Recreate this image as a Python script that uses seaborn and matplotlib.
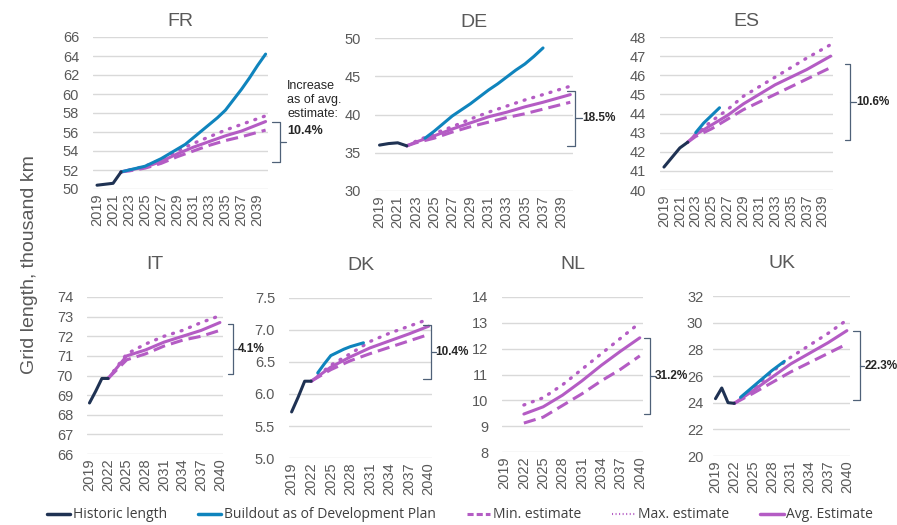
import matplotlib
matplotlib.use("Agg")
import matplotlib.pyplot as plt
import matplotlib.transforms as mtransforms
from matplotlib.lines import Line2D
import seaborn as sns

# ---- data (thousand km) ----
countries = ["FR", "DE", "ES", "IT", "DK", "NL", "UK"]

hist_years = [2019, 2020, 2021, 2022]
hist_fr = [50.4, 50.5, 50.6, 51.8]
hist_de = [36.0, 36.2, 36.3, 35.9]
hist_es = [41.2, 41.7, 42.2, 42.5]
hist_it = [68.6, 69.2, 69.85, 69.85]
hist_dk = [5.72, 5.95, 6.2, 6.2]
hist_uk = [24.3, 25.1, 24.0, 23.95]

build_years_fr = list(range(2022, 2041))
build_fr = [51.8, 52.0, 52.2, 52.4, 52.8, 53.2, 53.7, 54.2, 54.7, 55.4,
            56.1, 56.8, 57.5, 58.3, 59.4, 60.5, 61.7, 63.0, 64.2]
build_years_de = list(range(2024, 2038))
build_de = [36.9, 37.8, 38.8, 39.8, 40.6, 41.4, 42.3, 43.2, 44.0, 44.9,
            45.8, 46.6, 47.6, 48.7]
build_years_es = [2023, 2024, 2025, 2026]
build_es = [43.0, 43.5, 43.9, 44.3]
build_years_dk = list(range(2023, 2031))
build_dk = [6.33, 6.47, 6.6, 6.65, 6.7, 6.74, 6.77, 6.8]
build_years_uk = list(range(2023, 2031))
build_uk = [24.4, 24.8, 25.2, 25.6, 26.0, 26.4, 26.75, 27.1]

est_years_top = [2022, 2023, 2025, 2027, 2029, 2031, 2033, 2035, 2037, 2040]
avg_fr = [51.8, 52.0, 52.3, 52.9, 53.7, 54.4, 55.0, 55.6, 56.1, 57.1]
max_fr = [51.8, 52.0, 52.4, 53.1, 54.0, 54.8, 55.5, 56.2, 56.8, 57.7]
min_fr = [51.8, 51.9, 52.2, 52.7, 53.4, 54.0, 54.6, 55.1, 55.5, 56.2]
avg_de = [35.9, 36.4, 37.2, 38.1, 38.9, 39.7, 40.3, 41.0, 41.6, 42.6]
max_de = [35.9, 36.5, 37.5, 38.4, 39.4, 40.3, 41.1, 41.9, 42.6, 43.7]
min_de = [35.9, 36.3, 36.9, 37.7, 38.4, 39.0, 39.6, 40.1, 40.7, 41.6]
avg_es = [42.5, 42.9, 43.4, 43.9, 44.5, 45.0, 45.5, 45.9, 46.3, 47.0]
max_es = [42.5, 42.9, 43.6, 44.2, 44.9, 45.4, 45.9, 46.4, 46.9, 47.6]
min_es = [42.5, 42.8, 43.2, 43.7, 44.2, 44.6, 45.0, 45.4, 45.8, 46.4]

est_years_bot = [2022, 2025, 2028, 2031, 2034, 2037, 2040]
avg_it = [69.85, 71.0, 71.3, 71.7, 72.0, 72.3, 72.7]
max_it = [69.85, 71.1, 71.6, 72.0, 72.3, 72.7, 73.05]
min_it = [69.85, 70.8, 71.1, 71.5, 71.8, 72.0, 72.3]
avg_dk = [6.2, 6.42, 6.58, 6.72, 6.83, 6.94, 7.06]
max_dk = [6.2, 6.45, 6.63, 6.82, 6.95, 7.06, 7.17]
min_dk = [6.2, 6.38, 6.52, 6.63, 6.73, 6.83, 6.93]
avg_nl = [9.47, 9.75, 10.2, 10.75, 11.35, 11.9, 12.42]
max_nl = [9.82, 10.1, 10.6, 11.2, 11.8, 12.4, 13.0]
min_nl = [9.12, 9.35, 9.8, 10.25, 10.75, 11.2, 11.72]
avg_uk = [23.95, 24.9, 25.9, 26.9, 27.7, 28.5, 29.4]
max_uk = [23.95, 25.0, 26.3, 27.4, 28.3, 29.2, 30.2]
min_uk = [23.95, 24.7, 25.5, 26.3, 27.0, 27.7, 28.4]

pct_labels = ["10.4%", "18.5%", "10.6%", "4.1%", "10.4%", "31.2%", "22.3%"]
bracket_top = [57.1, 43.1, 46.6, 72.6, 7.08, 12.42, 29.35]
bracket_bottom = [52.8, 35.9, 42.6, 70.1, 6.24, 9.46, 24.2]

ylims = [(50, 66), (30, 50), (40, 48), (66, 74), (5, 7.5), (8, 14), (20, 32)]
ysteps = [2, 5, 1, 1, 0.5, 1, 2]

# ---- style ----
C_HIST = "#1f3253"
C_BUILD = "#0f84bd"
C_EST = "#b45cc4"
C_TXT = "#595959"
C_BRK = "#4f6178"

sns.set_style("white")
plt.rcParams["font.family"] = ["Liberation Sans", "DejaVu Sans"]

W, H = 897, 525
fig = plt.figure(figsize=(W / 100, H / 100), dpi=100)


def rect(x0, y0, x1, y1):
    return [x0 / W, 1 - y1 / H, (x1 - x0) / W, (y1 - y0) / H]


# pixel boxes of each plot area
boxes = [(93, 37, 268, 189), (375, 38, 573, 191), (660, 37, 833, 190),
         (87, 297, 223, 454), (289, 298, 432, 458), (502, 297, 643, 452),
         (713, 296, 850, 456)]
# bracket x (axes fraction): left, right
bracket_x = [(1.023, 1.069), (0.97, 1.01), (1.069, 1.098), (1.037, 1.07),
             (0.94, 0.99), (1.007, 1.05), (1.02, 1.07)]

series = {
    "FR": dict(hist=hist_fr, build=(build_years_fr, build_fr), est=(est_years_top, avg_fr, min_fr, max_fr)),
    "DE": dict(hist=hist_de, build=(build_years_de, build_de), est=(est_years_top, avg_de, min_de, max_de)),
    "ES": dict(hist=hist_es, build=(build_years_es, build_es), est=(est_years_top, avg_es, min_es, max_es)),
    "IT": dict(hist=hist_it, build=None, est=(est_years_bot, avg_it, min_it, max_it)),
    "DK": dict(hist=hist_dk, build=(build_years_dk, build_dk), est=(est_years_bot, avg_dk, min_dk, max_dk)),
    "NL": dict(hist=None, build=None, est=(est_years_bot, avg_nl, min_nl, max_nl)),
    "UK": dict(hist=hist_uk, build=(build_years_uk, build_uk), est=(est_years_bot, avg_uk, min_uk, max_uk)),
}

for i, c in enumerate(countries):
    ax = fig.add_axes(rect(*boxes[i]))
    s = series[c]
    yrs, avg, mn, mx = s["est"]
    sns.lineplot(x=yrs, y=mn, ax=ax, color=C_EST, lw=2.2, linestyle=(0, (4, 2)))
    sns.lineplot(x=yrs, y=mx, ax=ax, color=C_EST, lw=2.4, linestyle=(0, (0.3, 2.4)),
                 dash_capstyle="round")
    sns.lineplot(x=yrs, y=avg, ax=ax, color=C_EST, lw=2.2)
    if s["build"] is not None:
        sns.lineplot(x=s["build"][0], y=s["build"][1], ax=ax, color=C_BUILD, lw=2.2)
    if s["hist"] is not None:
        sns.lineplot(x=hist_years, y=s["hist"], ax=ax, color=C_HIST, lw=2.2)

    lo, hi = ylims[i]
    ax.set_ylim(lo, hi)
    ticks = []
    v = lo
    while v <= hi + 1e-9:
        ticks.append(round(v, 2))
        v += ysteps[i]
    ax.set_yticks(ticks)
    if c == "DK":
        ax.set_yticklabels([f"{t:.1f}" for t in ticks])
    else:
        ax.set_yticklabels([f"{t:g}" for t in ticks])
    if i < 3:
        ax.set_xlim(2018.5, 2040.3)
        ax.set_xticks(range(2019, 2040, 2))
    else:
        ax.set_xlim(2018.6, 2040.5)
        ax.set_xticks(range(2019, 2041, 3))
    ax.tick_params(axis="x", labelrotation=90, labelsize=10.5, colors=C_TXT, length=0, pad=3)
    ax.tick_params(axis="y", labelsize=10.5, colors=C_TXT, length=0,
                   pad=7 if c == "UK" else 10)
    ax.grid(axis="y", color="#d9d9d9", lw=1)
    ax.grid(axis="x", visible=False)
    for sp in ax.spines.values():
        sp.set_visible(False)
    ax.set_xlabel("")
    ax.set_ylabel("")
    ax.set_title(c, fontsize=14, color=C_TXT, pad=8 if i < 3 else 20)

    # bracket "}"
    tr = mtransforms.blended_transform_factory(ax.transAxes, ax.transData)
    xl, xr = bracket_x[i]
    top, bot = bracket_top[i], bracket_bottom[i]
    mid = (top + bot) / 2
    ax.plot([xl, xr, xr, xl], [top, top, bot, bot], transform=tr, color=C_BRK,
            lw=0.9, clip_on=False)
    ax.plot([xr, xr + 0.035], [mid, mid], transform=tr, color=C_BRK, lw=0.9, clip_on=False)
    if c != "FR":
        ax.text(xr + 0.036, mid, pct_labels[i], transform=tr, fontsize=8.5,
                fontweight="bold", va="center", ha="left", color="#262626")

# FR note sits above its bracket stub
fig.text(287 / W, 1 - 80 / H, "Increase\nas of avg.\nestimate:", fontsize=9,
         va="top", ha="left", color="#262626", linespacing=1.2)
fig.text(287 / W, 1 - 131 / H, pct_labels[0], fontsize=9, fontweight="bold",
         va="center", ha="left", color="#262626")

fig.text(30 / W, 1 - 265 / H, "Grid length, thousand km", rotation=90, fontsize=14,
         color=C_TXT, ha="center", va="center")

handles = [
    Line2D([], [], color=C_HIST, lw=2.5),
    Line2D([], [], color=C_BUILD, lw=2.5),
    Line2D([], [], color=C_EST, lw=2.2, linestyle=(0, (2, 1))),
    Line2D([], [], color=C_EST, lw=1.5, linestyle=(0, (0.5, 1.2))),
    Line2D([], [], color=C_EST, lw=2.5),
]
labels = ["Historic length", "Buildout as of Development Plan", "Min. estimate",
          "Max. estimate", "Avg. Estimate"]
leg = fig.legend(handles, labels, loc="center", bbox_to_anchor=(460 / W, 1 - 515 / H),
                 ncol=5, frameon=False, handlelength=1.7, handletextpad=0.2,
                 columnspacing=2.2, prop={"family": "Open Sans", "size": 10})
for t in leg.get_texts():
    t.set_color("#404040")

fig.savefig("out.png", dpi=100)
